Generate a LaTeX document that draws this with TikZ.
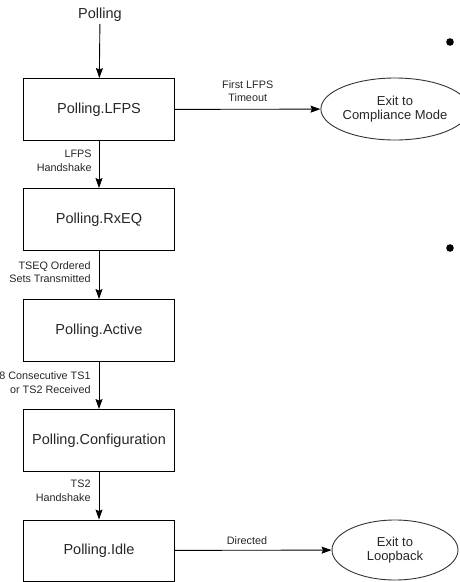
\documentclass[tikz,border=0pt]{standalone}
\usepackage{fontspec}
\setmainfont{Liberation Sans}
\usetikzlibrary{arrows.meta,shapes.geometric}
\tikzset{
  statebox/.style={draw=black,line width=0.9pt,minimum width=151pt,minimum height=62pt,inner sep=0pt,font=\fontsize{14.5}{16}\selectfont,text=black!85},
  exitell/.style={ellipse,draw=black!80,line width=0.9pt,minimum width=126pt,minimum height=62pt,inner sep=0pt,align=center,font=\fontsize{13}{14.5}\selectfont,text=black!85},
  lbl/.style={align=right,font=\fontsize{10.8}{13.5}\selectfont,text=black!85,inner sep=0pt},
  conn/.style={line width=0.9pt,-{Stealth[length=10pt,width=7pt,inset=1.5pt]}},
}
\begin{document}
\begin{tikzpicture}[x=1pt,y=-1pt]
\useasboundingbox (0,0) rectangle (459,582);
\node[font=\fontsize{14.5}{16}\selectfont,text=black!85,inner sep=2pt] (start) at (100,15) {Polling};
\node[statebox] (lfps) at (99,109.5) {Polling.LFPS};
\node[statebox] (rxeq) at (99,219.5) {Polling.RxEQ};
\node[statebox] (active) at (99,330.5) {Polling.Active};
\node[statebox] (config) at (99,440.5) {Polling.Configuration};
\node[statebox,minimum height=61pt] (idle) at (99,550.5) {Polling.Idle};
\node[exitell] (comp) at (395,109) {Exit to\\Compliance Mode};
\node[exitell,minimum height=60pt] (loop) at (395,550) {Exit to\\Loopback};

\draw[conn] (start) -- (lfps);
\draw[conn] (lfps) -- node[lbl,left=7pt,pos=0.42] {LFPS\\Handshake} (rxeq);
\draw[conn] (rxeq) -- node[lbl,left=8pt,pos=0.44] {TSEQ Ordered\\Sets Transmitted} (active);
\draw[conn] (active) -- node[lbl,left=8pt,pos=0.44] {8 Consecutive TS1\\or TS2 Received} (config);
\draw[conn] (config) -- node[lbl,left=8pt,pos=0.4] {TS2\\Handshake} (idle);
\draw[conn] (lfps) -- node[lbl,align=center,above=7pt,pos=0.5] {First LFPS\\Timeout} (comp);
\draw[conn] (idle) -- node[lbl,align=center,above=5pt,pos=0.46] {Directed} (loop);

\fill[black] (450,42) circle (3.8pt);
\fill[black] (450,248) circle (3.8pt);
\end{tikzpicture}
\end{document}
